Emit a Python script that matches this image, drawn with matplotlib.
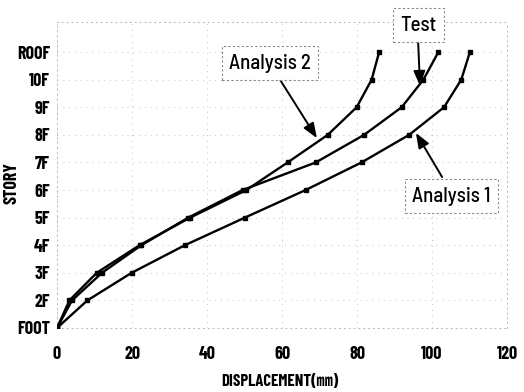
import matplotlib
matplotlib.use("Agg")
import matplotlib.pyplot as plt

# Story levels and their labels
stories = [0, 1, 2, 3, 4, 5, 6, 7, 8, 9, 10]
story_labels = ["FOOT", "2F", "3F", "4F", "5F", "6F", "7F", "8F", "9F", "10F", "ROOF"]

# Peak displacement (mm) at each level
test_disp = [0, 4.0, 12.0, 22.5, 35.0, 49.5, 69.0, 81.9, 91.9, 97.7, 101.7]
analysis1_disp = [0, 8.1, 19.9, 34.1, 50.1, 66.3, 81.2, 93.9, 103.2, 107.8, 110.1]
analysis2_disp = [0, 3.3, 10.6, 22.0, 35.5, 50.5, 61.5, 72.2, 79.9, 83.9, 85.9]

x_ticks = [0, 20, 40, 60, 80, 100, 120]

tick_font = ["Barlow Condensed", "Roboto Condensed", "DejaVu Sans"]
label_font = ["Barlow Condensed", "Noto Sans CJK KR", "DejaVu Sans"]
note_font = ["Barlow Semi Condensed", "Liberation Sans", "DejaVu Sans"]

fig = plt.figure(figsize=(5.24, 3.92), dpi=100)
ax = fig.add_axes([0.1088, 0.1633, 0.8588, 0.7806])

grid_kw = dict(color="#c4c4c4", linestyle=(0, (1, 5)), linewidth=0.7, zorder=0)
for xv in x_ticks:
    ax.axvline(xv, **grid_kw)
for yv in stories:
    ax.axhline(yv, **grid_kw)

line_kw = dict(color="black", linewidth=1.7, marker="s", markersize=3.5, zorder=3)
ax.plot(analysis1_disp, stories, **line_kw)
ax.plot(test_disp, stories, **line_kw)
ax.plot(analysis2_disp, stories, **line_kw)

ax.set_xlim(0, 120)
ax.set_ylim(0, 11.09)
ax.set_xticks(x_ticks)
ax.set_yticks(stories)
ax.set_yticklabels(story_labels)
ax.tick_params(length=0, pad=5)
for t in ax.get_xticklabels() + ax.get_yticklabels():
    t.set_family(tick_font)
    t.set_fontweight("bold")
    t.set_fontsize(13)
ax.tick_params(axis="x", pad=13)

for s in ax.spines.values():
    s.set_color("#b8b8b8")
    s.set_linestyle((0, (1, 4)))
    s.set_linewidth(0.7)

ax.set_xlabel("DISPLACEMENT(㎜)", family=label_font, fontweight="bold",
              fontsize=12)
ax.set_ylabel("STORY", family=tick_font, fontweight="bold", fontsize=13)
ax.xaxis.set_label_coords(0.496, -0.152)
ax.yaxis.set_label_coords(-0.082, 0.474)

box = dict(boxstyle="square,pad=0.35", facecolor="white", edgecolor="#888888",
           linestyle=(0, (2, 2)), linewidth=0.8)
arrow = dict(arrowstyle="-|>,head_length=0.9,head_width=0.35", color="black",
             linewidth=1.4, shrinkA=0, shrinkB=0)

notes = [
    ("Analysis 2", (56.8, 9.6), (59.5, 8.99), (69.3, 6.88)),
    ("Test", (96.3, 10.98), (96.3, 10.36), (96.8, 8.77)),
    ("Analysis 1", (105.1, 4.78), (102.7, 5.47), (95.7, 7.07)),
]
for text, pos, tail, head in notes:
    ax.annotate("", xy=head, xytext=tail, arrowprops=arrow, zorder=4,
                annotation_clip=False)
    ax.text(pos[0], pos[1], text, family=note_font, fontsize=15,
            fontweight="medium", ha="center", va="center", bbox=box,
            zorder=5, clip_on=False)

fig.savefig("out.png", dpi=100)
